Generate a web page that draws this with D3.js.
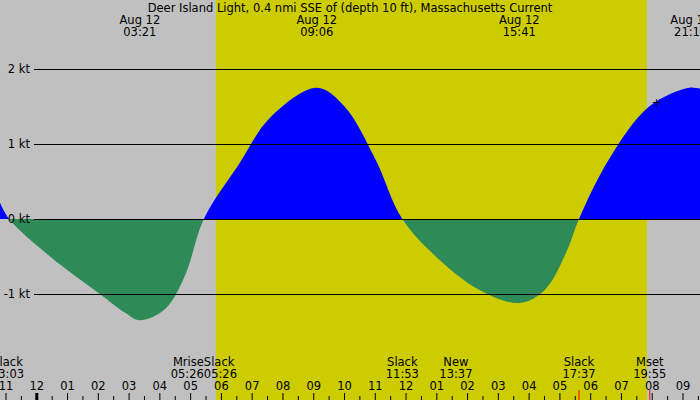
<!DOCTYPE html>
<html><head><meta charset="utf-8">
<script src="https://cdn.jsdelivr.net/npm/d3@7"></script>
<style>body{margin:0;background:#c0c0c0}text{font-family:"DejaVu Sans",sans-serif;font-size:11.5px}</style>
</head><body><svg id="c" width="700" height="400"></svg>
<script>
// hours relative to midnight Aug 12, current in knots
const hours = [-1.2, -0.9, 0.43, 2.05, 2.87, 3.35, 4.17, 4.82, 5.43, 6.6, 7.58, 9.1, 10.0, 11.0, 11.88, 13.1, 14.4, 15.68, 16.5, 17.2, 17.62, 18.6, 19.9, 21.2, 21.6];
const knots = [0.22, 0, -0.5, -1.0, -1.25, -1.35, -1.2, -0.75, 0, 0.75, 1.35, 1.75, 1.5, 0.8, 0, -0.55, -0.95, -1.12, -0.95, -0.45, 0, 0.8, 1.5, 1.75, 1.73];
const topLabels = [[3.35, "Aug 12", "03:21"], [9.1, "Aug 12", "09:06"], [15.68, "Aug 12", "15:41"], [21.25, "Aug 12", "21:15"]];
const events = [[-0.95, "Slack", "23:03", "middle"], [5.43, "Mrise", "05:26", "end"], [5.43, "Slack", "05:26", "start"], [11.88, "Slack", "11:53", "middle"], [13.62, "New", "13:37", "middle"], [17.62, "Slack", "17:37", "middle"], [19.92, "Mset", "19:55", "middle"]];
const hourLabels = ["11","12","01","02","03","04","05","06","07","08","09","10","11","12","01","02","03","04","05","06","07","08","09"];
const ktTicks = [2, 1, 0, -1];
const daylight = [5.82, 19.83];

const svg = d3.select("#c");
const x = d3.scaleLinear().domain([-1, 21]).range([6, 683]);
const y = d3.scaleLinear().domain([0, 1]).range([219, 144]);

svg.append("rect").attr("x", x(daylight[0])).attr("y", 0).attr("width", x(daylight[1]) - x(daylight[0])).attr("height", 400).attr("fill", "#cccc00");

const pts = hours.map((h, i) => [h, knots[i]]);
const area = d3.area().x(d => x(d[0])).y0(y(0)).y1(d => y(d[1])).curve(d3.curveCatmullRom);
svg.append("clipPath").attr("id", "pos").append("rect").attr("x", 0).attr("y", 0).attr("width", 700).attr("height", y(0));
svg.append("clipPath").attr("id", "neg").append("rect").attr("x", 0).attr("y", y(0)).attr("width", 700).attr("height", 200);
svg.append("path").attr("d", area(pts)).attr("fill", "#0000ff").attr("clip-path", "url(#pos)");
svg.append("path").attr("d", area(pts)).attr("fill", "#2e8b57").attr("clip-path", "url(#neg)");

ktTicks.forEach(k => {
  svg.append("line").attr("x1", 34).attr("x2", 700).attr("y1", y(k) + 0.5).attr("y2", y(k) + 0.5).attr("stroke", "#000");
  svg.append("text").attr("x", 30).attr("y", y(k) + 4).attr("text-anchor", "end").text(k + " kt");
});

svg.append("text").attr("x", 350).attr("y", 12).attr("text-anchor", "middle").text("Deer Island Light, 0.4 nmi SSE of (depth 10 ft), Massachusetts Current");
topLabels.forEach(d => {
  svg.append("text").attr("x", x(d[0])).attr("y", 24).attr("text-anchor", "middle").text(d[1]);
  svg.append("text").attr("x", x(d[0])).attr("y", 36).attr("text-anchor", "middle").text(d[2]);
});
svg.append("text").attr("x", x(21.25) - 34).attr("y", y(1.55) + 4).attr("text-anchor", "middle").text("+");

events.forEach(d => {
  svg.append("text").attr("x", x(d[0])).attr("y", 366).attr("text-anchor", d[3]).text(d[1]);
  svg.append("text").attr("x", x(d[0])).attr("y", 378).attr("text-anchor", d[3]).text(d[2]);
});

hourLabels.forEach((l, i) => {
  const h = i - 1;
  svg.append("text").attr("x", x(h)).attr("y", 390).attr("text-anchor", "middle").text(l);
  svg.append("line").attr("x1", x(h)).attr("x2", x(h)).attr("y1", 393).attr("y2", 400).attr("stroke", "#000").attr("stroke-width", h === 0 ? 3 : 1);
  svg.append("line").attr("x1", x(h + 0.5)).attr("x2", x(h + 0.5)).attr("y1", 396).attr("y2", 400).attr("stroke", "#000");
});
[17.62, 19.92].forEach(h => svg.append("line").attr("x1", x(h)).attr("x2", x(h)).attr("y1", 390).attr("y2", 400).attr("stroke", "red"));
</script></body></html>
